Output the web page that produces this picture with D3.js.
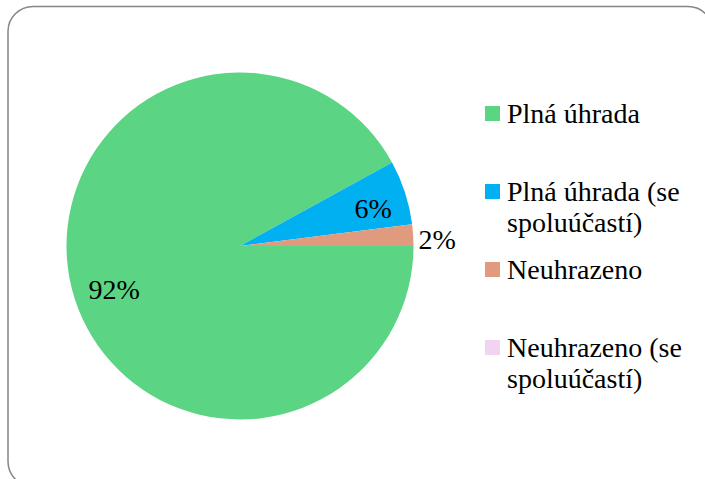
<!DOCTYPE html>
<html><head><meta charset="utf-8">
<script src="https://cdn.jsdelivr.net/npm/d3@7"></script>
<style>html,body{margin:0;padding:0;background:#fff;}svg{display:block;}</style>
</head><body>
<script>
const categories = ["Plná úhrada", "Plná úhrada (se spoluúčastí)", "Neuhrazeno", "Neuhrazeno (se spoluúčastí)"];
const legendLines = [["Plná úhrada"], ["Plná úhrada (se", "spoluúčastí)"], ["Neuhrazeno"], ["Neuhrazeno (se", "spoluúčastí)"]];
const values = [92, 6, 2, 0];
const valueLabels = ["92%", "6%", "2%", ""];
const colors = ["#5bd584", "#00b0f0", "#e09b7f", "#f2d3f0"];

const W = 705, H = 479;
const font = "'Liberation Serif', 'Times New Roman', serif";
const svg = d3.select("body").append("svg").attr("width", W).attr("height", H);

svg.append("rect").attr("x", 8).attr("y", 6.5).attr("width", 705).attr("height", 480)
  .attr("rx", 25).attr("fill", "#fff").attr("stroke", "#858585").attr("stroke-width", 1.5);

const cx = 240, cy = 246, r = 173.5;
const data = categories.map((c, i) => ({cat: c, value: values[i], label: valueLabels[i], color: colors[i]}));
const pie = d3.pie().sort(null).value(d => d.value)
  .startAngle(Math.PI / 2).endAngle(Math.PI / 2 + 2 * Math.PI);
const arcs = pie(data);
const arc = d3.arc().innerRadius(0).outerRadius(r);

const g = svg.append("g").attr("transform", `translate(${cx},${cy})`);
g.selectAll("path").data(arcs.filter(a => a.data.value > 0)).join("path")
  .attr("d", arc).attr("fill", d => d.data.color);

function frac(a) { return (a.endAngle - a.startAngle) / (2 * Math.PI); }
function labelRadius(a) {
  const f = frac(a);
  if (f < 0.03) return r + 24;
  if (f < 0.2) return 140;
  return 130;
}
g.selectAll("text.lbl").data(arcs.filter(a => a.data.value > 0)).join("text")
  .attr("class", "lbl")
  .attr("transform", d => {
    const rr = labelRadius(d);
    const c = d3.arc().innerRadius(rr).outerRadius(rr).centroid(d);
    return `translate(${c[0]},${c[1]})`;
  })
  .attr("text-anchor", "middle").attr("dy", d => frac(d) > 0.5 ? 21 : 15)
  .attr("font-family", font).attr("font-size", 28).attr("fill", "#000")
  .text(d => d.data.label);

// legend
const legendY = d3.scalePoint().domain(categories).range([113.5, 347.5]);
const lg = svg.append("g");
const items = lg.selectAll("g").data(data).join("g")
  .attr("transform", d => `translate(485,${legendY(d.cat)})`);
items.append("rect").attr("x", 0).attr("y", -7.5).attr("width", 15).attr("height", 15)
  .attr("fill", d => d.color);
items.each(function(d, i) {
  const t = d3.select(this).append("text").attr("x", 22).attr("y", 9.5)
    .attr("font-family", font).attr("font-size", 28).attr("fill", "#000");
  legendLines[i].forEach((ln, j) => {
    t.append("tspan").attr("x", 22).attr("dy", j === 0 ? 0 : 31).text(ln);
  });
});
</script>
</body></html>
